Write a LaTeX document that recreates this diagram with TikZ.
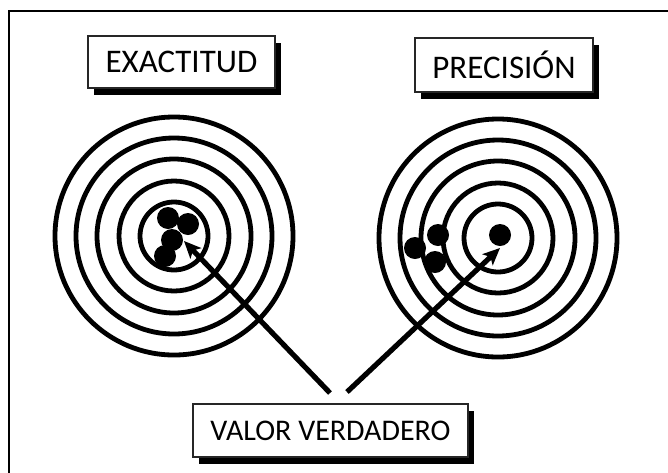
\documentclass[tikz,border=0pt]{standalone}
\usepackage{fontspec}
\setmainfont{Carlito}
\usetikzlibrary{arrows.meta,shadows}
\begin{document}
\begin{tikzpicture}[x=1pt,y=-1pt,
  label box/.style={draw=black!85, line width=1.1pt, fill=white, inner sep=0pt,
     drop shadow={shadow xshift=6pt, shadow yshift=-7pt, fill=black, opacity=1}},
  ring/.style={draw=black, line width=4.8pt},
  hit/.style={fill=black},
  pointer/.style={draw=black, line width=5.2pt, -{Stealth[length=17pt,width=15pt,inset=4pt]}}]
\useasboundingbox (0,0) rectangle (668,472);
\begin{scope}
\clip (0,0) rectangle (668,472);
\draw[line width=2pt] (9,11) rectangle (700,500);
\end{scope}
% targets
\foreach \cx/\cy/\nm in {174/236/L, 498/238/R}{
  \coordinate (c\nm) at (\cx,\cy);
  \foreach \r in {119,98,77,55,34}{
    \draw[ring] (c\nm) circle[radius=\r];
  }
}
% hits left
\fill[hit] (168,218) circle[radius=11];
\fill[hit] (188,224) circle[radius=11];
\fill[hit] (172,240) circle[radius=11];
\fill[hit] (165,256) circle[radius=11];
% hits right
\fill[hit] (500,235) circle[radius=11];
\fill[hit] (438,235) circle[radius=11];
\fill[hit] (415,248) circle[radius=11];
\fill[hit] (435,262) circle[radius=11];
% labels
\node[label box, minimum width=187pt, minimum height=52pt,
  font=\fontsize{33}{36}\selectfont] (exa) at (181.5,62) {EXACTITUD};
\node[label box, minimum width=178pt, minimum height=54pt,
  font=\fontsize{33}{36}\selectfont] (pre) at (504,65) {PRECISIÓN};
\node[label box, minimum width=275pt, minimum height=53pt,
  font=\fontsize{30}{34}\selectfont] (val) at (330.5,430.5) {VALOR VERDADERO};
% arrows
\coordinate (sL) at (330,393);
\coordinate (tL) at (184,241);
\coordinate (sR) at (347,392);
\coordinate (tR) at (500,248);
\draw[pointer] (sL) -- (tL);
\draw[pointer] (sR) -- (tR);
\end{tikzpicture}
\end{document}
